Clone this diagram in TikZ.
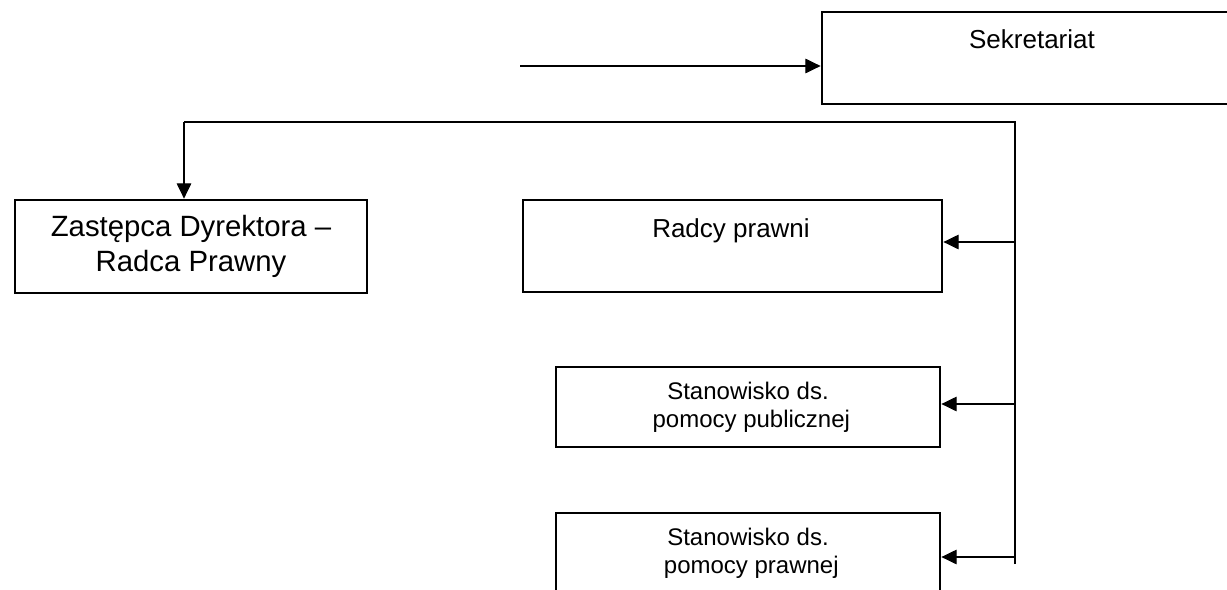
\documentclass[tikz,border=0pt]{standalone}
\usepackage{fontspec}
\setmainfont{Liberation Sans}
\usetikzlibrary{arrows.meta,positioning}
\begin{document}
\begin{tikzpicture}[x=0.75pt,y=-0.75pt,
  box/.style={draw,line width=2.1pt,inner sep=0pt,align=center},
  link/.style={line width=0.8pt},
  tip/.style={-{Triangle[length=11.5pt,width=11pt]}}]
\useasboundingbox (0,0) rectangle (1227,589);
\clip (0,0) rectangle (1227,589);
% boxes
\node[box,minimum width=315pt,minimum height=69pt] (sek) at (1032,58) {};
\node[anchor=base,font=\fontsize{19.5}{22}\selectfont] (sektxt) at (1032,48) {Sekretariat};
\node[box,minimum width=264pt,minimum height=69.75pt,font=\fontsize{22}{26}\selectfont] (zast) at (191,246.5) {Zastępca Dyrektora –\\Radca Prawny};
\node[box,minimum width=314.25pt,minimum height=69pt] (radcy) at (732.5,246) {};
\node[anchor=base,font=\fontsize{19.5}{22}\selectfont] (radcytxt) at (731,237) {Radcy prawni};
\node[box,minimum width=288pt,minimum height=60pt,font=\fontsize{18}{21}\selectfont] (pub) at (748,407) {Stanowisko ds.\\\ pomocy publicznej};
\node[box,minimum width=288pt,minimum height=60pt,font=\fontsize{18}{21}\selectfont] (praw) at (748,553) {Stanowisko ds.\\\ pomocy prawnej};
% connectors
\coordinate (in) at (520,66);
\coordinate (bt) at (1015,122);
\coordinate (bl) at (184,122);
\coordinate (bb) at (1015,564);
\coordinate (b1) at (1015,242);
\coordinate (b2) at (1015,404);
\coordinate (b3) at (1015,557);
\draw[link,tip] (in) -- (in -| sek.west);
\draw[link] (bb) -- (bt) -- (bl);
\draw[link,tip] (bl) -- (bl |- zast.north);
\draw[link,tip] (b1) -- (b1 -| radcy.east);
\draw[link,tip] (b2) -- (b2 -| pub.east);
\draw[link,tip] (b3) -- (b3 -| praw.east);
\end{tikzpicture}
\end{document}
